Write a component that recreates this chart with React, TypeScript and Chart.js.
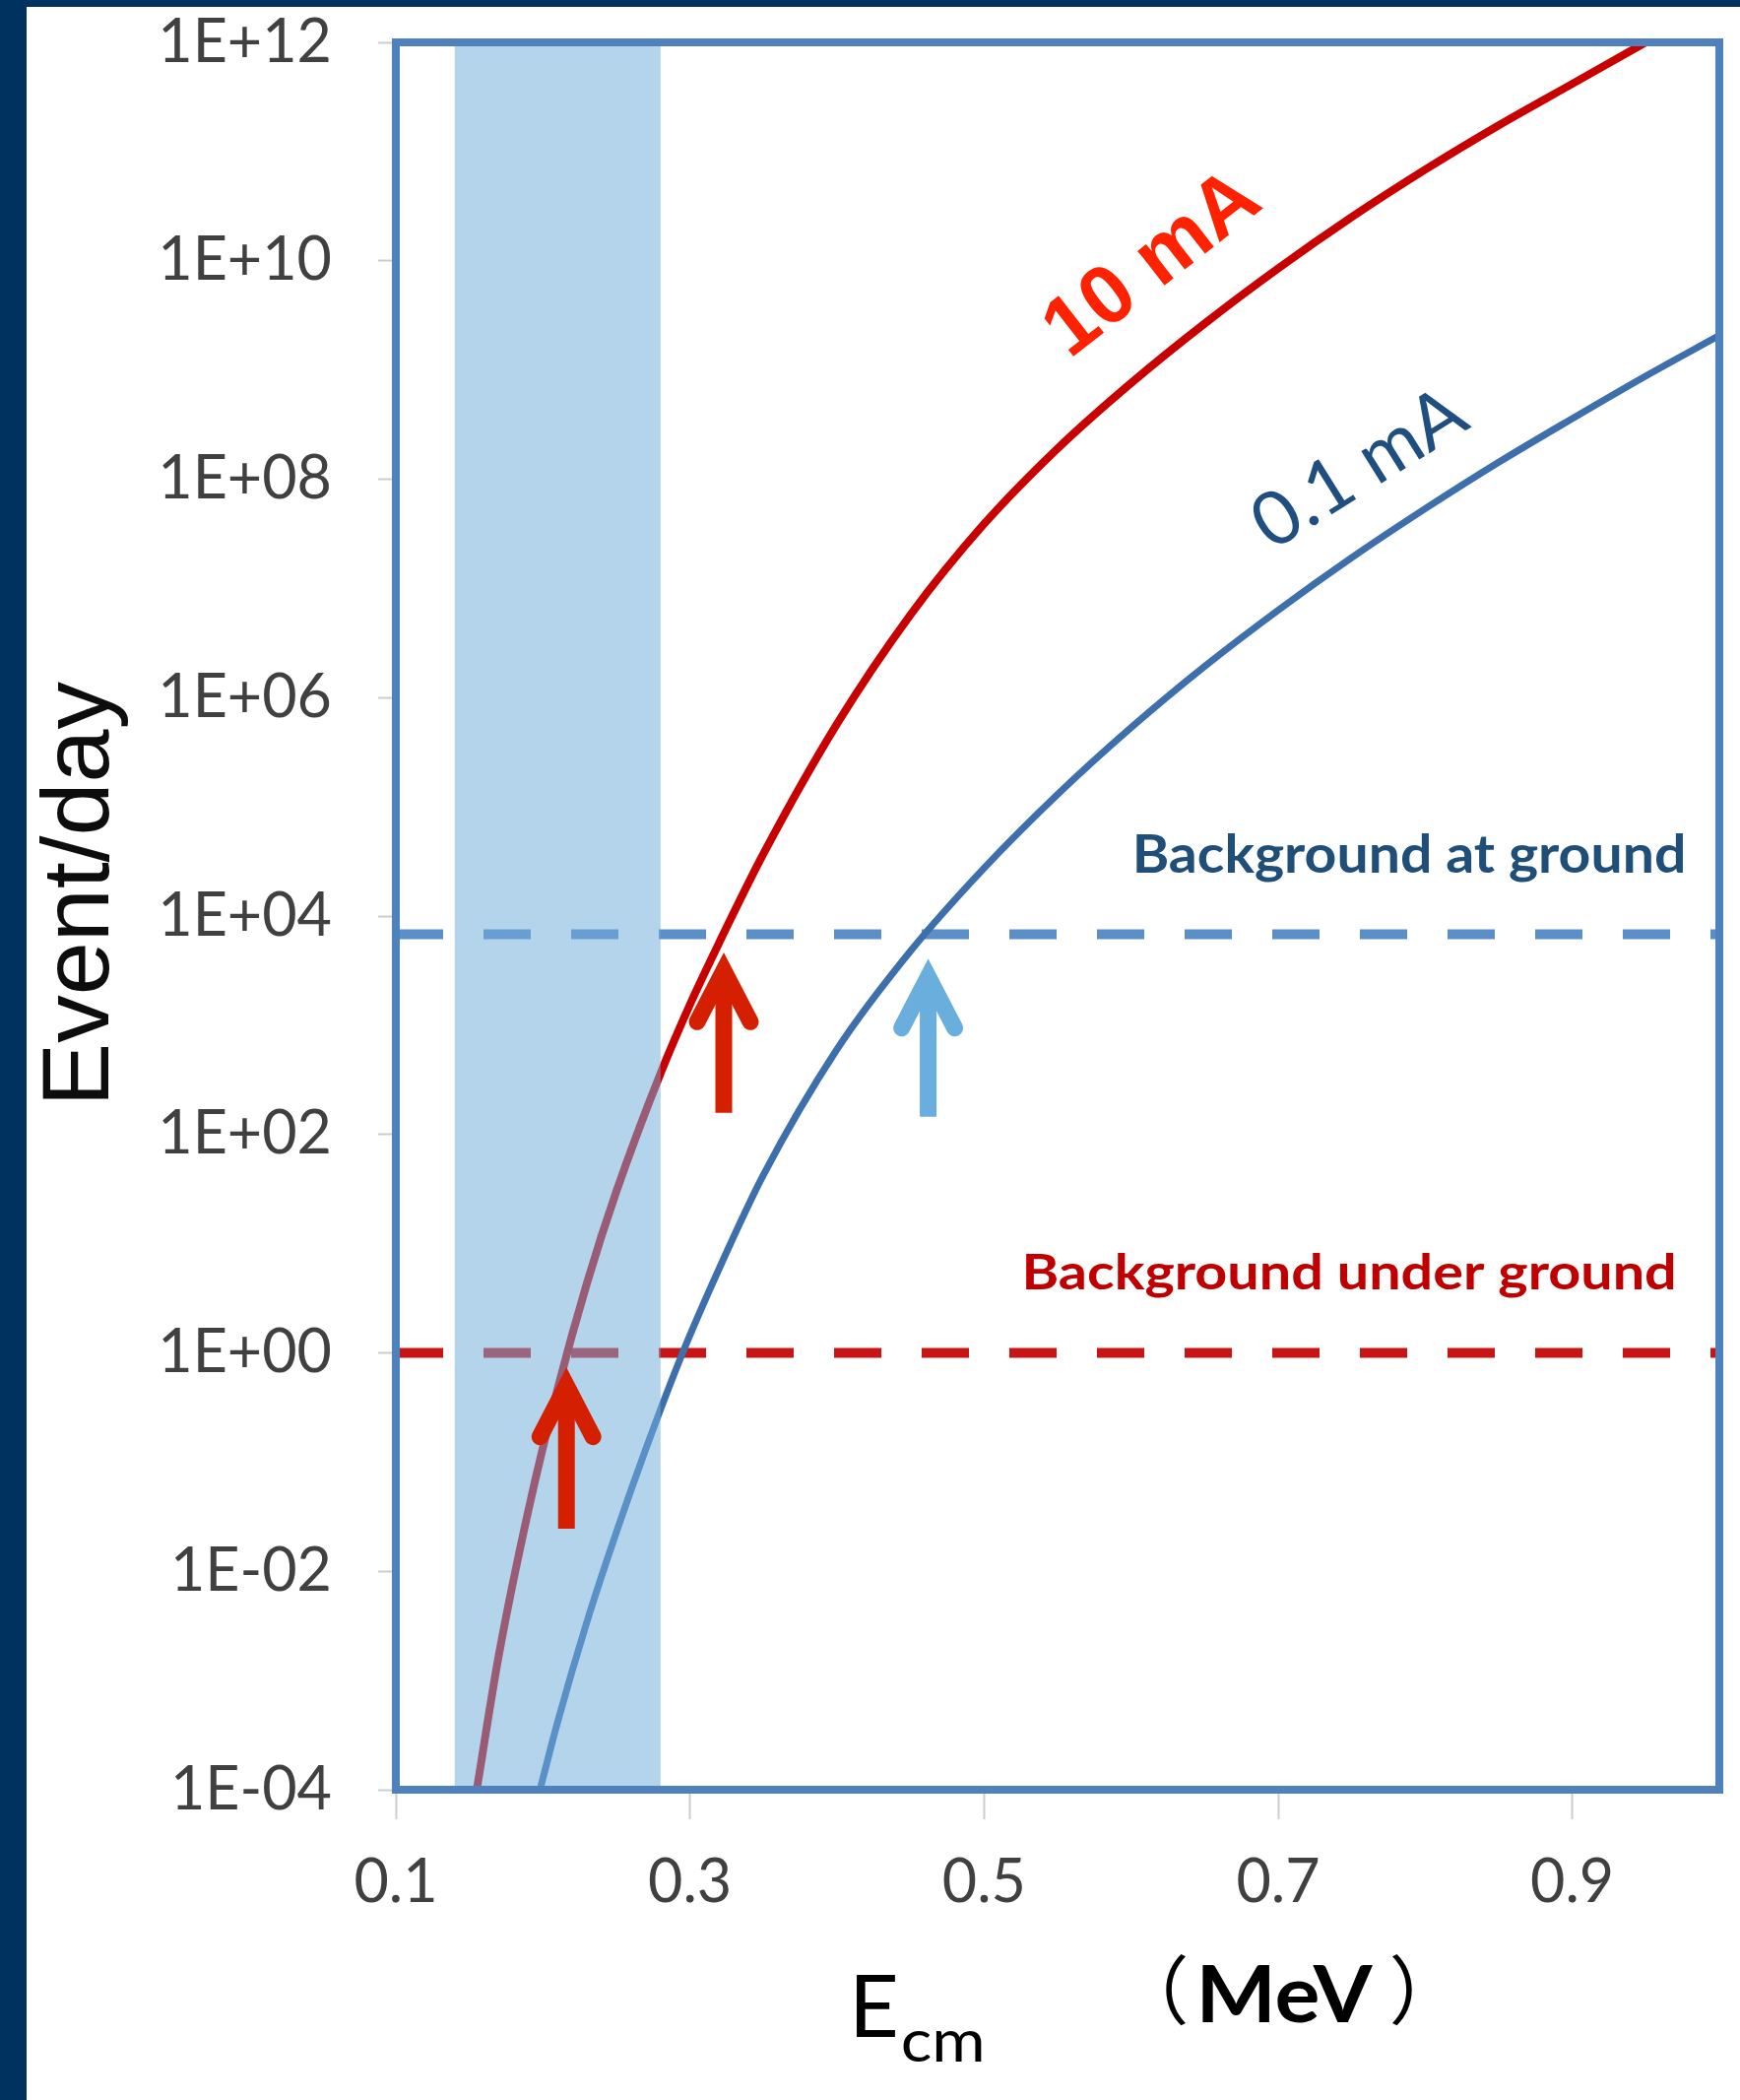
import React, { useEffect, useRef } from 'react';
import { Chart, registerables } from 'chart.js';

Chart.register(...registerables);

// ---- data ----
const xTicks = [0.1, 0.3, 0.5, 0.7, 0.9];
const yTickExponents = [-4, -2, 0, 2, 4, 6, 8, 10, 12];

const redEnergy = [0.155, 0.17, 0.19, 0.21, 0.23, 0.25, 0.28, 0.30, 0.32, 0.35, 0.40, 0.45, 0.50, 0.55, 0.60, 0.65, 0.70, 0.75, 0.80, 0.85, 0.90, 0.95];
const redEvents = [1.0e-4, 1.70e-3, 3.55e-2, 0.468, 4.37, 30.2, 363, 1.55e3, 5.75e3, 3.72e4, 5.75e5, 5.75e6, 3.89e7, 1.91e8, 7.59e8, 2.66e9, 8.51e9, 2.51e10, 6.84e10, 1.74e11, 4.17e11, 1.0e12];

const blueEnergy = [0.198, 0.21, 0.23, 0.25, 0.27, 0.295, 0.32, 0.35, 0.40, 0.45, 0.50, 0.55, 0.60, 0.65, 0.70, 0.75, 0.80, 0.85, 0.90, 0.95, 1.0];
const blueEvents = [1.0e-4, 4.17e-4, 3.47e-3, 2.29e-2, 0.132, 1.0, 5.96, 42.7, 603, 4.79e3, 2.75e4, 1.30e5, 5.31e5, 1.93e6, 6.31e6, 1.91e7, 5.37e7, 1.43e8, 3.59e8, 8.81e8, 2.07e9];

const lineEnergyRange = [0.1, 1.0];
const groundLevel = 6.8e3;
const undergroundLevel = 1;

const bandRange = [0.14, 0.28];

const arrowEnergy = [0.216, 0.323, 0.462];
const arrowTail = [0.0245, 158, 145];
const arrowTip = [0.76, 4.8e3, 4.2e3];
const arrowColors = ['#D42000', '#D42000', '#6AAEDD'];

const fmtExp = (v: number) => {
  const e = Math.round(Math.log10(v));
  return '1E' + (e < 0 ? '-' : '+') + String(Math.abs(e)).padStart(2, '0');
};

function inkText(ctx: CanvasRenderingContext2D, text: string, font: string, color: string, cx: number, cy: number, angleDeg: number, targetW?: number) {
  ctx.save();
  ctx.font = font;
  ctx.fillStyle = color;
  ctx.textAlign = 'left';
  ctx.textBaseline = 'alphabetic';
  const m = ctx.measureText(text);
  const w = m.actualBoundingBoxLeft + m.actualBoundingBoxRight;
  const h = m.actualBoundingBoxAscent + m.actualBoundingBoxDescent;
  const sx = targetW ? targetW / w : 1;
  ctx.translate(cx, cy);
  ctx.rotate((angleDeg * Math.PI) / 180);
  ctx.scale(sx, 1);
  ctx.fillText(text, -w / 2 + m.actualBoundingBoxLeft, h / 2 - m.actualBoundingBoxDescent);
  ctx.restore();
}

function baselineText(ctx: CanvasRenderingContext2D, text: string, font: string, color: string, inkLeft: number, baseline: number, targetW?: number) {
  ctx.save();
  ctx.font = font;
  ctx.fillStyle = color;
  ctx.textAlign = 'left';
  ctx.textBaseline = 'alphabetic';
  const m = ctx.measureText(text);
  const w = m.actualBoundingBoxLeft + m.actualBoundingBoxRight;
  const sx = targetW ? targetW / w : 1;
  ctx.translate(inkLeft, baseline);
  ctx.scale(sx, 1);
  ctx.fillText(text, m.actualBoundingBoxLeft, 0);
  ctx.restore();
}

const decorPlugin = {
  id: 'decor',
  beforeDraw(chart: any) {
    const ctx: CanvasRenderingContext2D = chart.ctx;
    ctx.save();
    ctx.fillStyle = '#ffffff';
    ctx.fillRect(0, 0, chart.width, chart.height);
    ctx.fillStyle = '#00325F';
    ctx.fillRect(0, 0, 27, chart.height);
    ctx.fillRect(0, 0, chart.width, 7);
    ctx.restore();
  },
  afterDatasetsDraw(chart: any) {
    const ctx: CanvasRenderingContext2D = chart.ctx;
    const xs = chart.scales.x;
    const ys = chart.scales.y;
    const ca = chart.chartArea;
    ctx.save();
    // shaded band (drawn over the curves, semi-transparent)
    const bx0 = xs.getPixelForValue(bandRange[0]);
    const bx1 = xs.getPixelForValue(bandRange[1]);
    ctx.fillStyle = 'rgba(113,174,219,0.53)';
    ctx.fillRect(bx0, ca.top, bx1 - bx0, ca.bottom - ca.top);

    // arrows
    arrowEnergy.forEach((e, i) => {
      const x = xs.getPixelForValue(e);
      const tipY = ys.getPixelForValue(arrowTip[i]);
      const tailY = ys.getPixelForValue(arrowTail[i]);
      const vY = tipY + 20;
      ctx.strokeStyle = arrowColors[i];
      ctx.lineWidth = 17;
      ctx.lineCap = 'butt';
      ctx.beginPath();
      ctx.moveTo(x, vY + 4);
      ctx.lineTo(x, tailY);
      ctx.stroke();
      ctx.lineJoin = 'miter';
      ctx.lineCap = 'round';
      ctx.beginPath();
      ctx.moveTo(x - 27, vY + 52);
      ctx.lineTo(x, vY);
      ctx.lineTo(x + 27, vY + 52);
      ctx.stroke();
    });

    // frame
    ctx.strokeStyle = '#4F81BD';
    ctx.lineWidth = 8;
    ctx.lineJoin = 'miter';
    ctx.strokeRect(ca.left, ca.top, ca.right - ca.left, ca.bottom - ca.top);
    ctx.restore();
  },
  afterDraw(chart: any) {
    const ctx: CanvasRenderingContext2D = chart.ctx;
    inkText(ctx, 'Event/day', '97px "Liberation Sans"', '#0d0d0d', 85, 904, -90);
    inkText(ctx, '10 mA', 'bold 84px "Liberation Sans"', '#FF2200', 1169, 264, -38);
    inkText(ctx, '0.1 mA', '76px Lato', '#1F4F80', 1380, 473, -32);
    baselineText(ctx, 'Background at ground', 'bold 53px Lato', '#1F4E79', 1154, 886, 555);
    baselineText(ctx, 'Background under ground', 'bold 50px Lato', '#C00000', 1042, 1309, 658);
    baselineText(ctx, 'E', '88px Lato', '#000000', 870, 2068);
    baselineText(ctx, 'cm', '60px Lato', '#000000', 917, 2093, 80);
    baselineText(ctx, 'MeV', 'bold 80px Lato', '#000000', 1221, 2053, 173);
    inkText(ctx, '（', '76px "Noto Sans CJK SC"', '#000000', 1194, 2020, 0);
    inkText(ctx, '）', '76px "Noto Sans CJK SC"', '#000000', 1424, 2020, 0);
  },
};

const toPoints = (xs: number[], ys: number[]) => xs.map((x, i) => ({ x, y: ys[i] }));

export default function App() {
  const ref = useRef<HTMLCanvasElement>(null);
  useEffect(() => {
    document.body.style.margin = '0';
    document.body.style.overflow = 'hidden';
    const canvas = ref.current!;
    const chart = new Chart(canvas, {
      type: 'line',
      data: {
        datasets: [
          {
            label: '10 mA',
            data: toPoints(redEnergy, redEvents),
            borderColor: '#C80000',
            borderWidth: 8,
            pointRadius: 0,
            cubicInterpolationMode: 'monotone',
            fill: false,
            order: 1,
          },
          {
            label: '0.1 mA',
            data: toPoints(blueEnergy, blueEvents),
            borderColor: '#3E6FAD',
            borderWidth: 7,
            pointRadius: 0,
            cubicInterpolationMode: 'monotone',
            fill: false,
            order: 2,
          },
          {
            label: 'Background at ground',
            data: toPoints(lineEnergyRange, [groundLevel, groundLevel]),
            borderColor: '#5B8FC9',
            borderWidth: 10,
            borderDash: [48, 41],
            borderCapStyle: 'butt',
            pointRadius: 0,
            fill: false,
            order: 3,
          },
          {
            label: 'Background under ground',
            data: toPoints(lineEnergyRange, [undergroundLevel, undergroundLevel]),
            borderColor: '#C81414',
            borderWidth: 10,
            borderDash: [48, 41],
            borderCapStyle: 'butt',
            pointRadius: 0,
            fill: false,
            order: 4,
          },
        ] as any,
      },
      options: {
        animation: false,
        responsive: false,
        devicePixelRatio: 1,
        layout: { padding: { left: 0, top: 43, right: 21, bottom: 0 } },
        plugins: { legend: { display: false }, tooltip: { enabled: false } },
        scales: {
          x: {
            type: 'linear',
            min: 0.1,
            max: 1.0,
            afterBuildTicks: (s: any) => {
              s.ticks = xTicks.map((v) => ({ value: v }));
            },
            afterFit: (s: any) => {
              s.height = 315;
              s.paddingLeft = 0;
              s.paddingRight = 0;
              s.paddingTop = 0;
              s.paddingBottom = 0;
            },
            ticks: {
              callback: (v: any) => Number(v).toFixed(1),
              font: { family: 'Lato', size: 61, lineHeight: 1.2 },
              color: '#404040',
              padding: 28,
              maxRotation: 0,
              autoSkip: false,
            },
            grid: { drawOnChartArea: false, drawTicks: true, tickLength: 30, tickColor: '#cccccc', tickWidth: 2 },
            border: { display: false },
          },
          y: {
            type: 'logarithmic',
            min: 1e-4,
            max: 1e12,
            afterBuildTicks: (s: any) => {
              s.ticks = yTickExponents.map((e) => ({ value: Math.pow(10, e) }));
            },
            afterFit: (s: any) => {
              s.width = 402;
              s.paddingLeft = 0;
              s.paddingRight = 0;
              s.paddingTop = 0;
              s.paddingBottom = 0;
            },
            ticks: {
              callback: (v: any) => fmtExp(Number(v)),
              font: { family: 'Lato', size: 61, lineHeight: 1.2 },
              color: '#404040',
              padding: 47,
              autoSkip: false,
            },
            grid: { drawOnChartArea: false, drawTicks: true, tickLength: 18, tickColor: '#cccccc', tickWidth: 2 },
            border: { display: false },
          },
        },
      } as any,
      plugins: [decorPlugin],
    });
    return () => chart.destroy();
  }, []);
  return (
    <div style={{ position: 'absolute', left: 0, top: 0, width: 1767, height: 2132, background: '#ffffff' }}>
      <canvas ref={ref} width={1767} height={2132} style={{ display: 'block', width: 1767, height: 2132 }} />
    </div>
  );
}
